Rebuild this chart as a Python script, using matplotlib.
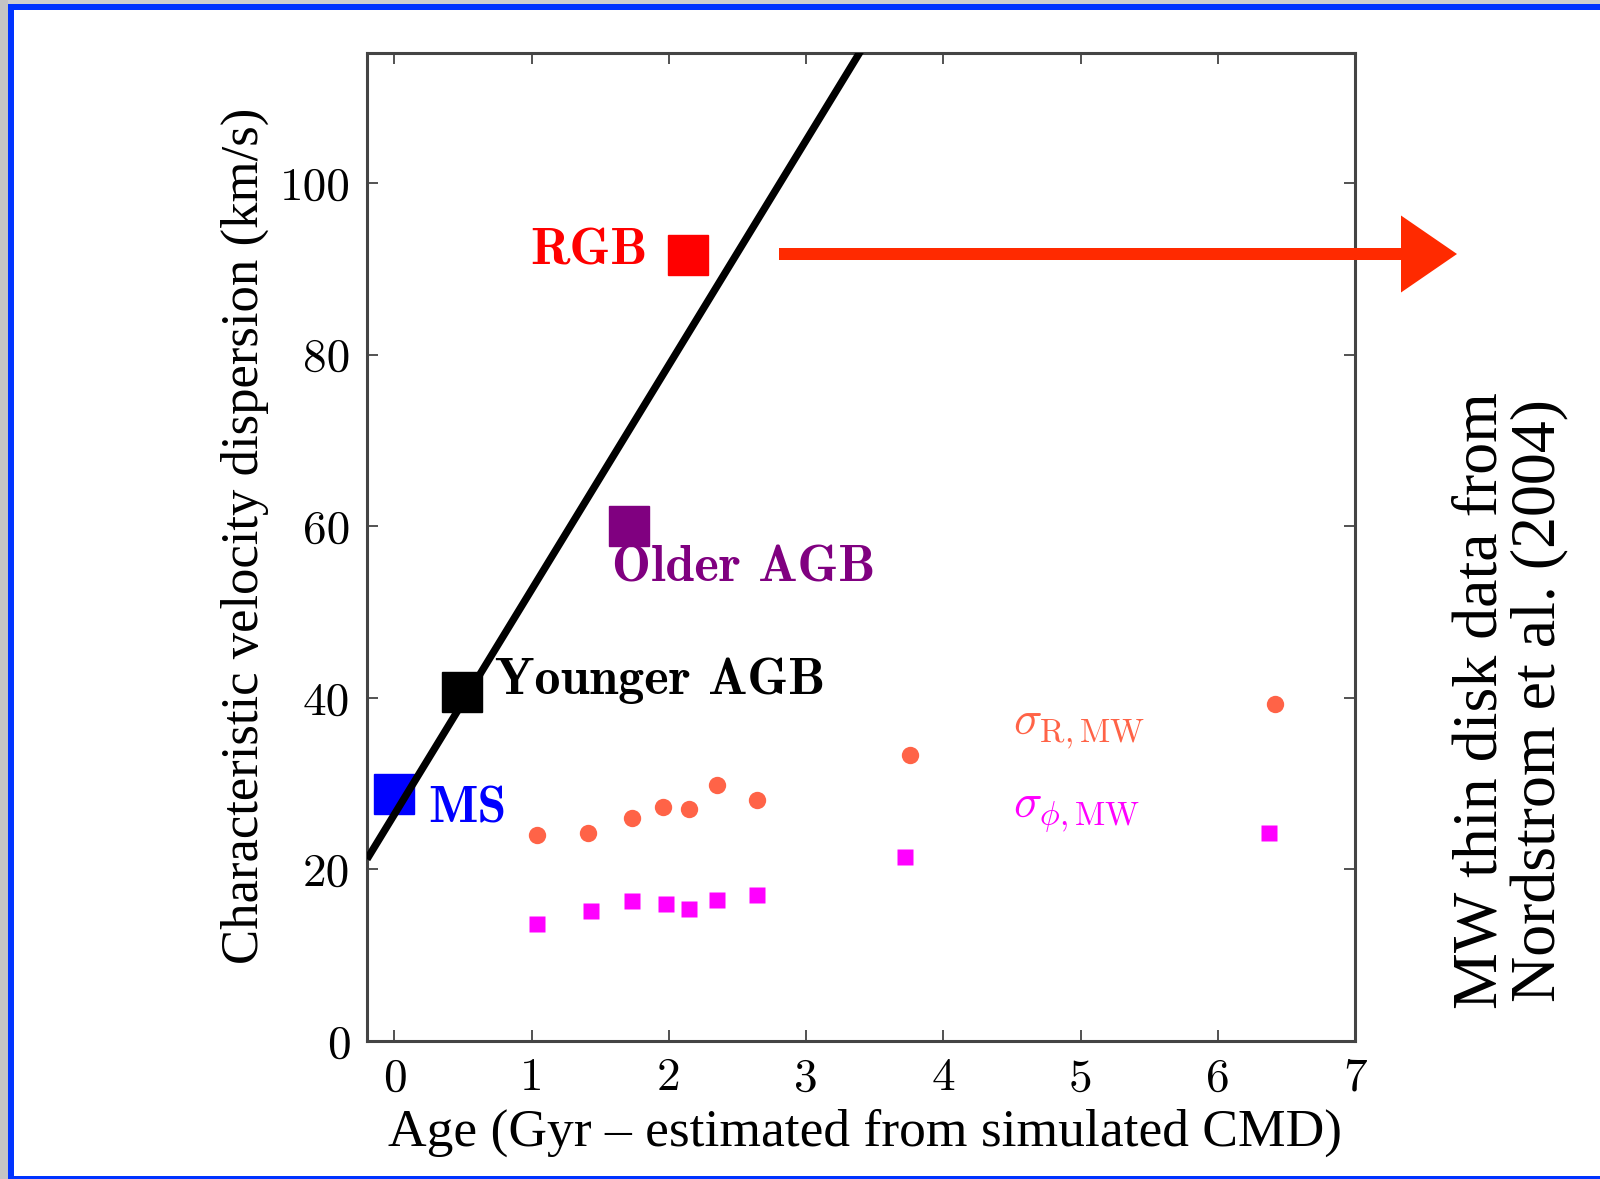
import matplotlib
matplotlib.use("Agg")
import matplotlib.pyplot as plt
from matplotlib.patches import Rectangle, FancyArrow

plt.rcParams['mathtext.fontset'] = 'cm'

# ---------------- data ----------------
pop_names = ["MS", "Younger AGB", "Older AGB", "RGB"]
pop_age = [0.0, 0.49, 1.71, 2.14]
pop_sigma = [28.8, 40.7, 60.1, 91.7]
pop_colors = ["#0000ff", "#000000", "#800080", "#ff0000"]

fit_x = [-0.2, 3.4]
fit_y = [21.2, 115.5]

mw_age_R = [1.04, 1.41, 1.73, 1.96, 2.15, 2.35, 2.64, 3.76, 6.42]
mw_sigma_R = [24.0, 24.3, 26.0, 27.3, 27.0, 29.8, 28.1, 33.3, 39.3]
mw_age_phi = [1.04, 1.43, 1.73, 1.98, 2.15, 2.35, 2.64, 3.72, 6.37]
mw_sigma_phi = [13.7, 15.2, 16.3, 16.0, 15.4, 16.4, 17.0, 21.5, 24.3]

x_ticks = [0, 1, 2, 3, 4, 5, 6, 7]
y_ticks = [0, 20, 40, 60, 80, 100]

# ---------------- figure ----------------
W, H = 1600, 1179
fig = plt.figure(figsize=(16, 11.79), dpi=100)
fig.patch.set_facecolor("white")

# slide frame (gray margin + blue border)
def px_rect(x0, y0, w, h, color):
    fig.add_artist(Rectangle((x0 / W, 1 - (y0 + h) / H), w / W, h / H,
                             transform=fig.transFigure, color=color, lw=0, zorder=0))

px_rect(0, 0, 1600, 4, "#cfcfcf")
px_rect(0, 0, 8, 1179, "#c4c4c4")
px_rect(8, 4, 1592, 6, "#0033ff")
px_rect(8, 4, 6, 1175, "#0033ff")
px_rect(8, 1176, 1592, 3, "#0033ff")

ax = fig.add_axes([367 / W, 138 / H, (1355 - 367) / W, (1126 - 138) / H])
ax.set_xlim(-0.2, 7.0)
ax.set_ylim(0, 115.2)

ax.plot(fit_x, fit_y, color="black", lw=5.3, solid_capstyle="butt", zorder=3)

for a, s, c in zip(pop_age, pop_sigma, pop_colors):
    ax.plot([a], [s], marker="s", ms=29, color=c, mec=c, ls="none", zorder=2)

ax.plot(mw_age_R, mw_sigma_R, "o", ms=12.5, color="#ff6347", mec="none", zorder=2)
ax.plot(mw_age_phi, mw_sigma_phi, "s", ms=11, color="#ff00ff", mec="none", zorder=2)

# population labels
lab_kw = dict(fontfamily="cmb10", fontsize=37.5, va="center")
ax.text(1.845, 92.0, pop_names[3], color=pop_colors[3], ha="right", **lab_kw)
ax.text(1.585, 55.1, pop_names[2], color=pop_colors[2], ha="left", **lab_kw)
ax.text(0.73, 42.0, pop_names[1], color=pop_colors[1], ha="left", **lab_kw)
ax.text(0.245, 27.0, pop_names[0], color=pop_colors[0], ha="left", **lab_kw)

ax.text(4.51, 36.4, r"$\sigma_{\rm R,MW}$", color="#ff6347", fontsize=34,
        ha="left", va="center")
ax.text(4.51, 26.6, r"$\sigma_{\phi,\rm MW}$", color="#ff00ff", fontsize=34,
        ha="left", va="center")

# axes styling
for sp in ax.spines.values():
    sp.set_color("#444444")
    sp.set_linewidth(2.2)
ax.set_xticks(x_ticks)
ax.set_yticks(y_ticks)
ax.set_xticklabels([str(t) for t in x_ticks], fontfamily="cmr10", fontsize=34)
ax.set_yticklabels([str(t) for t in y_ticks], fontfamily="cmr10", fontsize=34)
ax.tick_params(direction="in", length=8, width=1.3, color="#444444",
               top=True, right=True)
ax.tick_params(axis="x", pad=12)
ax.tick_params(axis="y", pad=12)

# axis titles (slide text, Times-like)
fig.text(865 / W, 1 - 1133 / H, "Age (Gyr \u2013 estimated from simulated CMD)",
         fontfamily="Liberation Serif", fontsize=38.5, ha="center", va="center")
fig.text(245 / W, 1 - 536 / H, "Characteristic velocity dispersion (km/s)",
         fontfamily="Liberation Serif", fontsize=38, ha="center", va="center",
         rotation=90)
fig.text(1511 / W, 1 - 701 / H, "MW thin disk data from\nNordstrom et al. (2004)",
         fontfamily="Liberation Serif", fontsize=46, ha="center", va="center",
         rotation=90, multialignment="center", linespacing=1.0)

# red arrow (in inches, isotropic)
x0, x1, yy = 779 / 100, 1457 / 100, (H - 254) / 100
fig.add_artist(FancyArrow(x0, yy, x1 - x0, 0, width=0.12, head_width=0.77,
                          head_length=0.56, length_includes_head=True,
                          color="#ff2a00", lw=0, transform=fig.dpi_scale_trans))

fig.savefig("out.png", dpi=100)
